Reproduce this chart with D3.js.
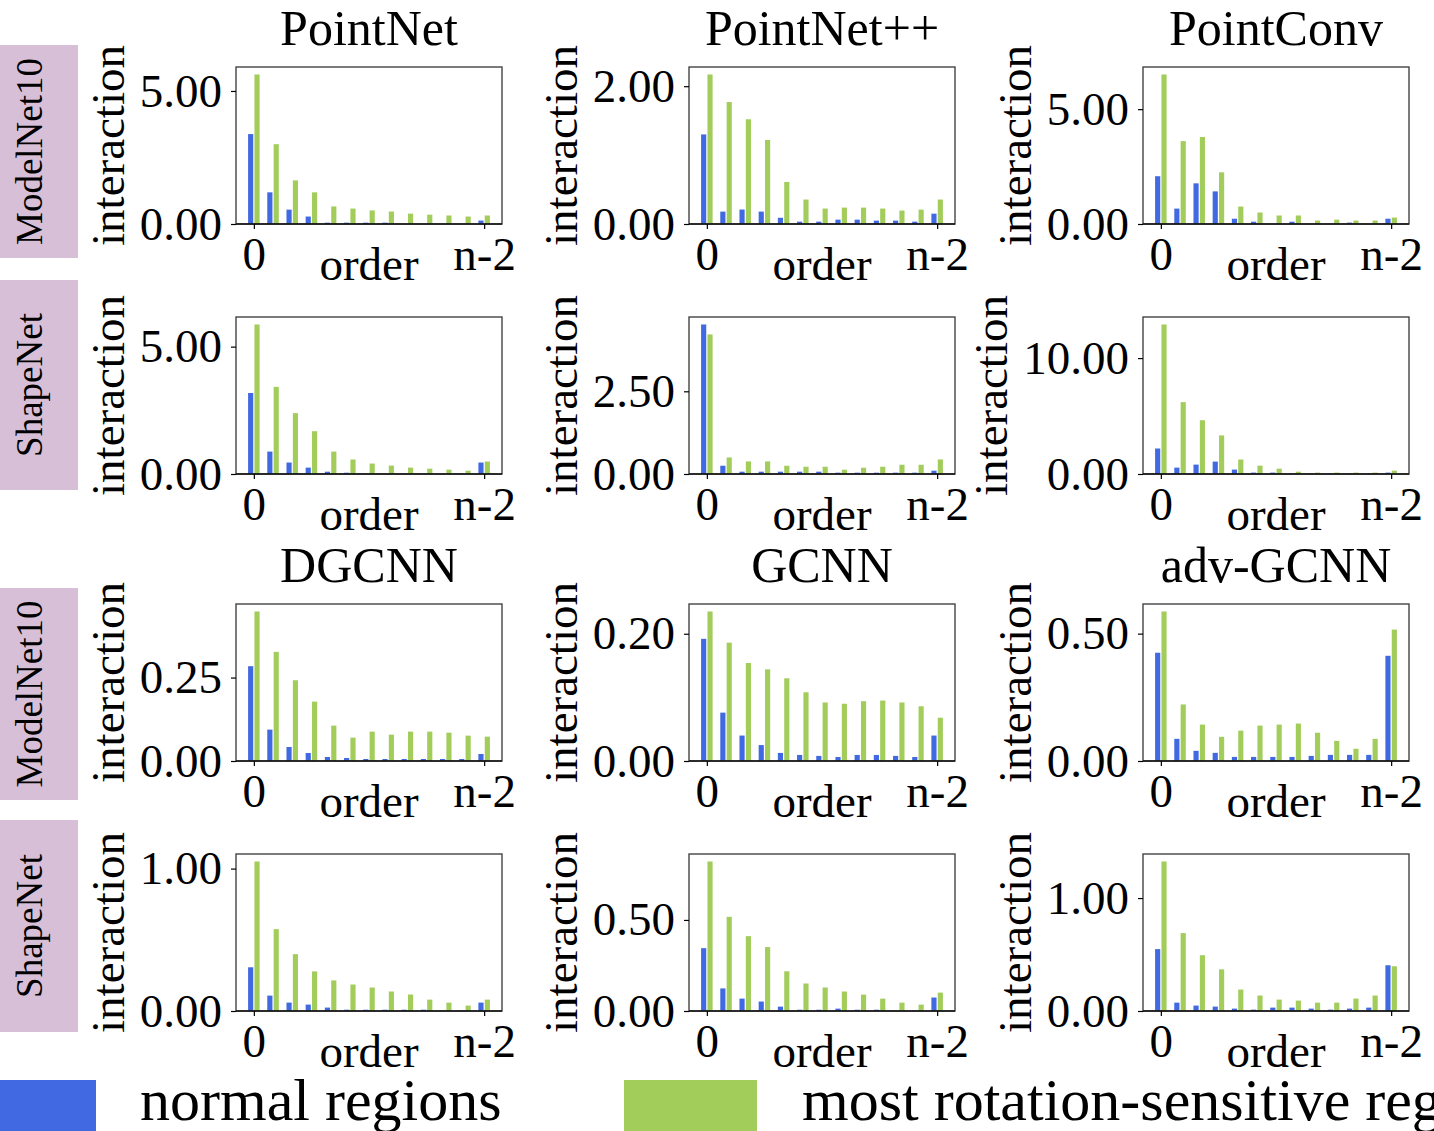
<!DOCTYPE html>
<html>
<head>
<meta charset="utf-8">
<script src="https://cdn.jsdelivr.net/npm/d3@7"></script>
<style>
  body { margin: 0; background: #fff; }
  svg text { font-family: 'Liberation Serif', 'Times New Roman', serif; fill: #000; }
</style>
</head>
<body>
<svg id="chart" width="1434" height="1131"></svg>
<script>
// orders 0 .. n-2 (13 groups per panel)
const orders = [0, 1, 2, 3, 4, 5, 6, 7, 8, 9, 10, 11, 12];
const orderTickLabels = ['0', 'n-2'];
const models = ['PointNet', 'PointNet++', 'PointConv', 'DGCNN', 'GCNN', 'adv-GCNN'];
const datasets = ['ModelNet10', 'ShapeNet'];
const seriesNames = ['normal regions', 'most rotation-sensitive regions'];

// ModelNet10
const pointNetM10Normal = [3.38, 1.19, 0.54, 0.28, 0.05, 0.05, 0.05, 0.05, 0.0, 0.0, 0.0, 0.0, 0.13];
const pointNetM10Sens = [5.62, 3.0, 1.64, 1.19, 0.66, 0.58, 0.51, 0.47, 0.39, 0.35, 0.32, 0.28, 0.32];
const pointNet2M10Normal = [1.30, 0.18, 0.21, 0.18, 0.09, 0.034, 0.034, 0.063, 0.063, 0.049, 0.049, 0.034, 0.15];
const pointNet2M10Sens = [2.17, 1.77, 1.52, 1.22, 0.61, 0.355, 0.224, 0.238, 0.238, 0.224, 0.195, 0.209, 0.355];
const pointConvM10Normal = [2.08, 0.67, 1.77, 1.42, 0.23, 0.10, 0.0, 0.10, 0.0, 0.0, 0.06, 0.0, 0.23];
const pointConvM10Sens = [6.51, 3.61, 3.79, 2.25, 0.76, 0.50, 0.37, 0.37, 0.15, 0.19, 0.15, 0.15, 0.28];
const dgcnnM10Normal = [0.284, 0.094, 0.042, 0.024, 0.012, 0.009, 0.006, 0.006, 0.006, 0.006, 0.006, 0.006, 0.021];
const dgcnnM10Sens = [0.448, 0.327, 0.242, 0.178, 0.106, 0.070, 0.088, 0.079, 0.088, 0.088, 0.085, 0.076, 0.073];
const gcnnM10Normal = [0.192, 0.076, 0.040, 0.025, 0.0127, 0.0095, 0.008, 0.0063, 0.0095, 0.0095, 0.008, 0.0063, 0.040];
const gcnnM10Sens = [0.235, 0.186, 0.154, 0.144, 0.130, 0.108, 0.092, 0.090, 0.094, 0.095, 0.092, 0.086, 0.068];
const advGcnnM10Normal = [0.425, 0.087, 0.040, 0.032, 0.016, 0.016, 0.016, 0.016, 0.020, 0.024, 0.024, 0.024, 0.413];
const advGcnnM10Sens = [0.587, 0.222, 0.143, 0.095, 0.119, 0.139, 0.143, 0.147, 0.111, 0.079, 0.048, 0.087, 0.516];

// ShapeNet
const pointNetSNNormal = [3.18, 0.88, 0.45, 0.25, 0.09, 0.05, 0.01, 0.01, 0.01, 0.01, 0.01, 0.01, 0.45];
const pointNetSNSens = [5.87, 3.42, 2.39, 1.68, 0.88, 0.57, 0.41, 0.33, 0.25, 0.21, 0.17, 0.13, 0.49];
const pointNet2SNNormal = [4.52, 0.25, 0.07, 0.07, 0.07, 0.07, 0.07, 0.04, 0.04, 0.04, 0.04, 0.04, 0.10];
const pointNet2SNSens = [4.22, 0.50, 0.38, 0.38, 0.25, 0.22, 0.22, 0.13, 0.19, 0.22, 0.28, 0.28, 0.44];
const pointConvSNNormal = [2.20, 0.55, 0.81, 1.07, 0.38, 0.12, 0.12, 0.03, 0.03, 0.03, 0.03, 0.03, 0.12];
const pointConvSNSens = [12.9, 6.20, 4.64, 3.33, 1.25, 0.72, 0.46, 0.20, 0.12, 0.12, 0.12, 0.12, 0.29];
const dgcnnSNNormal = [0.307, 0.108, 0.059, 0.045, 0.024, 0.009, 0.009, 0.009, 0.009, 0.009, 0.002, 0.002, 0.059];
const dgcnnSNSens = [1.05, 0.575, 0.399, 0.278, 0.215, 0.186, 0.165, 0.137, 0.116, 0.080, 0.059, 0.038, 0.080];
const gcnnSNNormal = [0.345, 0.124, 0.068, 0.052, 0.024, 0.007, 0.007, 0.013, 0.007, 0.007, 0.002, 0.002, 0.074];
const gcnnSNSens = [0.821, 0.517, 0.411, 0.351, 0.218, 0.151, 0.129, 0.107, 0.090, 0.068, 0.046, 0.035, 0.101];
const advGcnnSNNormal = [0.548, 0.074, 0.048, 0.039, 0.021, 0.012, 0.030, 0.030, 0.021, 0.012, 0.021, 0.030, 0.405];
const advGcnnSNSens = [1.324, 0.690, 0.494, 0.369, 0.190, 0.137, 0.101, 0.092, 0.074, 0.074, 0.110, 0.137, 0.396];

// y tick values shown on each panel
const pointNetTicks = [0, 5];
const pointNet2M10Ticks = [0, 2];
const pointNet2SNTicks = [0, 2.5];
const pointConvTicks = [0, 5];
const pointConvSNTicks = [0, 10];
const dgcnnM10Ticks = [0, 0.25];
const dgcnnSNTicks = [0, 1];
const gcnnM10Ticks = [0, 0.2];
const gcnnSNTicks = [0, 0.5];
const advGcnnM10Ticks = [0, 0.5];
const advGcnnSNTicks = [0, 1];

const blue = '#4169e1';
const green = '#a3cd5b';
const rowBoxColor = '#d8bfd8';

// layout
const panelW = 266;
const panelH = 157;
const colLeft = [236, 689, 1143];
const rowTop = [67, 317, 604, 854];
const rowBoxes = [[45, 258], [280, 490], [588, 800], [820, 1032]];
const fontSize = 47;

const panels = [
  { row: 0, col: 0, title: models[0], normal: pointNetM10Normal, sens: pointNetM10Sens, ticks: pointNetTicks },
  { row: 0, col: 1, title: models[1], normal: pointNet2M10Normal, sens: pointNet2M10Sens, ticks: pointNet2M10Ticks },
  { row: 0, col: 2, title: models[2], normal: pointConvM10Normal, sens: pointConvM10Sens, ticks: pointConvTicks },
  { row: 1, col: 0, normal: pointNetSNNormal, sens: pointNetSNSens, ticks: pointNetTicks },
  { row: 1, col: 1, normal: pointNet2SNNormal, sens: pointNet2SNSens, ticks: pointNet2SNTicks },
  { row: 1, col: 2, normal: pointConvSNNormal, sens: pointConvSNSens, ticks: pointConvSNTicks },
  { row: 2, col: 0, title: models[3], normal: dgcnnM10Normal, sens: dgcnnM10Sens, ticks: dgcnnM10Ticks },
  { row: 2, col: 1, title: models[4], normal: gcnnM10Normal, sens: gcnnM10Sens, ticks: gcnnM10Ticks },
  { row: 2, col: 2, title: models[5], normal: advGcnnM10Normal, sens: advGcnnM10Sens, ticks: advGcnnM10Ticks },
  { row: 3, col: 0, normal: dgcnnSNNormal, sens: dgcnnSNSens, ticks: dgcnnSNTicks },
  { row: 3, col: 1, normal: gcnnSNNormal, sens: gcnnSNSens, ticks: gcnnSNTicks },
  { row: 3, col: 2, normal: advGcnnSNNormal, sens: advGcnnSNSens, ticks: advGcnnSNTicks },
];

const svg = d3.select('#chart');
svg.append('rect').attr('width', 1434).attr('height', 1131).attr('fill', '#fff');

// row labels (dataset)
rowBoxes.forEach((b, i) => {
  const g = svg.append('g');
  g.append('rect')
    .attr('x', 0).attr('y', b[0])
    .attr('width', 78).attr('height', b[1] - b[0])
    .attr('fill', rowBoxColor);
  g.append('text')
    .attr('transform', `translate(42, ${(b[0] + b[1]) / 2}) rotate(-90)`)
    .attr('text-anchor', 'middle')
    .attr('font-size', 37)
    .text(datasets[i % 2]);
});

function drawPanel(p) {
  const g = svg.append('g')
    .attr('transform', `translate(${colLeft[p.col]}, ${rowTop[p.row]})`);

  // matplotlib-like 5% margins around bars spanning [-0.3, 12.3]
  const x = d3.scaleLinear().domain([-0.93, 12.93]).range([0, panelW]);
  const yMax = d3.max(p.normal.concat(p.sens)) * 1.05;
  const y = d3.scaleLinear().domain([0, yMax]).range([panelH, 0]);
  const bw = x(0.3) - x(0);

  g.selectAll('.normal').data(orders).enter()
    .append('rect')
    .attr('class', 'normal')
    .attr('x', d => x(d - 0.3))
    .attr('width', bw - 0.6)
    .attr('y', d => y(p.normal[d]))
    .attr('height', d => panelH - y(p.normal[d]))
    .attr('fill', blue);

  g.selectAll('.sens').data(orders).enter()
    .append('rect')
    .attr('class', 'sens')
    .attr('x', d => x(d) + 0.6)
    .attr('width', bw - 0.6)
    .attr('y', d => y(p.sens[d]))
    .attr('height', d => panelH - y(p.sens[d]))
    .attr('fill', green);

  // frame
  g.append('rect')
    .attr('width', panelW).attr('height', panelH)
    .attr('fill', 'none')
    .attr('stroke', '#444')
    .attr('stroke-width', 1.4);
  g.append('line')
    .attr('x1', 0).attr('x2', panelW)
    .attr('y1', panelH).attr('y2', panelH)
    .attr('stroke', '#111')
    .attr('stroke-width', 1.6);

  const yAxis = g.append('g')
    .call(d3.axisLeft(y)
      .tickValues(p.ticks)
      .tickFormat(d3.format('.2f'))
      .tickSize(5)
      .tickPadding(9));
  yAxis.select('.domain').remove();

  const xAxis = g.append('g')
    .attr('transform', `translate(0, ${panelH})`)
    .call(d3.axisBottom(x)
      .tickValues([orders[0], orders[orders.length - 1]])
      .tickFormat((d, i) => orderTickLabels[i])
      .tickSize(5)
      .tickPadding(8));
  xAxis.select('.domain').remove();

  [yAxis, xAxis].forEach(a => {
    a.attr('font-family', null).attr('font-size', fontSize);
    a.selectAll('line').attr('stroke', '#000').attr('stroke-width', 1.2);
    a.selectAll('text').attr('fill', '#000');
  });

  g.append('text')
    .attr('x', panelW / 2)
    .attr('y', panelH + 56)
    .attr('text-anchor', 'middle')
    .attr('font-size', fontSize)
    .text('order');

  // y label sits just left of the widest tick label, like matplotlib does
  const labelX = d3.min(yAxis.selectAll('text').nodes(), n => n.getBBox().x) - 16;
  g.append('text')
    .attr('transform', `translate(${labelX}, ${panelH / 2}) rotate(-90)`)
    .attr('text-anchor', 'middle')
    .attr('font-size', fontSize)
    .text('interaction');

  if (p.title) {
    g.append('text')
      .attr('x', panelW / 2)
      .attr('y', -22)
      .attr('text-anchor', 'middle')
      .attr('font-size', 50)
      .text(p.title);
  }
}

panels.forEach(drawPanel);

// legend
const legend = svg.append('g');
legend.append('rect').attr('x', 0).attr('y', 1080).attr('width', 96).attr('height', 60).attr('fill', blue);
legend.append('text').attr('x', 140).attr('y', 1120).attr('font-size', 60).text(seriesNames[0]);
legend.append('rect').attr('x', 624).attr('y', 1080).attr('width', 133).attr('height', 60).attr('fill', green);
legend.append('text').attr('x', 802).attr('y', 1120).attr('font-size', 60).text(seriesNames[1]);
</script>
</body>
</html>
